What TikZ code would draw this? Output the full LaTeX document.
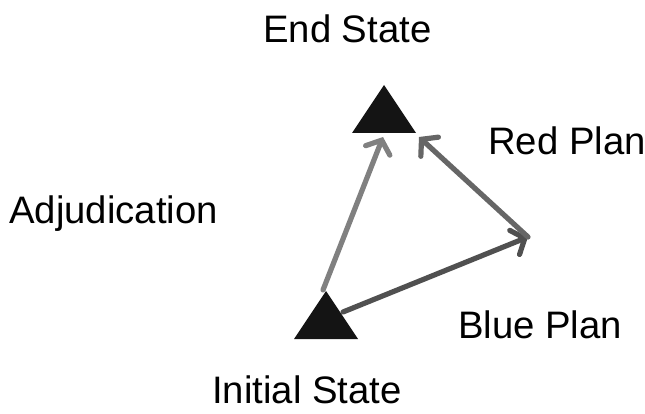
\documentclass[tikz,border=0pt]{standalone}
\usepackage{fontspec}
\setmainfont{Liberation Sans}
\usetikzlibrary{arrows.meta}
\begin{document}
\begin{tikzpicture}[x=1pt,y=-1pt,
  lbl/.style={anchor=base west,inner sep=0pt,font=\fontsize{38.3}{44}\selectfont},
  tri/.style={fill=black!92},
  conn/.style={line width=5.2pt,line cap=round,line join=round,-{Straight Barb[length=11pt,width=26pt,line cap=round]}}]
\useasboundingbox (0,0) rectangle (645,414);
% state triangles
\coordinate (endS) at (384,109);
\coordinate (iniS) at (326,315);
\fill[tri] (352,133) -- (384,85) -- (416,133) -- cycle;
\fill[tri] (294,339) -- (326,291) -- (358,339) -- cycle;
\coordinate (ia) at (323,290);
\coordinate (ir) at (343,312);
\coordinate (eb) at (383,137);
\coordinate (er) at (419,137);
\coordinate (pv) at (528,237);
% connectors
\draw[conn,draw={rgb,255:red,128;green,128;blue,128}] (ia) -- (eb);
\draw[conn,draw={rgb,255:red,80;green,80;blue,80}] (ir) -- (pv);
\draw[conn,draw={rgb,255:red,102;green,102;blue,102}] (pv) -- (er);
% labels
\node[lbl] (tEnd) at (263,43) {End State};
\node[lbl] (tRed) at (488,155) {Red Plan};
\node[lbl] (tAdj) at (9,224) {Adjudication};
\node[lbl] (tBlue) at (458,338) {Blue Plan};
\node[lbl] (tIni) at (212,403) {Initial State};
\end{tikzpicture}
\end{document}
